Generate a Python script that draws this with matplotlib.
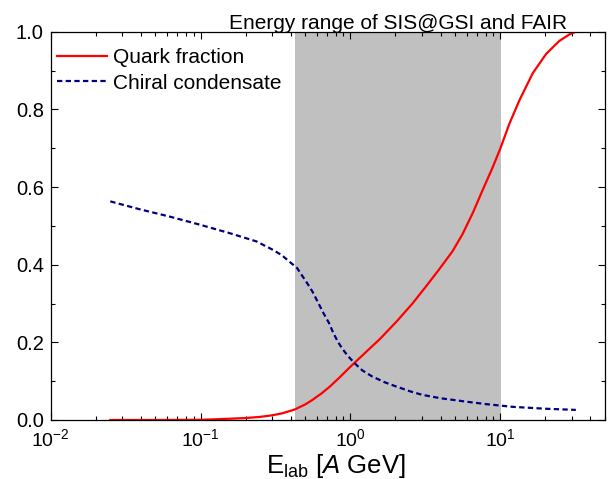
import numpy as np
import matplotlib
matplotlib.use('Agg')
import matplotlib.pyplot as plt
from matplotlib.ticker import MultipleLocator, FormatStrFormatter, LogLocator

plt.rcParams['font.family'] = ['Liberation Sans', 'DejaVu Sans']
plt.rcParams['mathtext.fontset'] = 'custom'
plt.rcParams['mathtext.rm'] = 'Liberation Sans'
plt.rcParams['mathtext.it'] = 'Liberation Sans:italic'
plt.rcParams['mathtext.default'] = 'regular'
plt.rcParams['axes.unicode_minus'] = False

# Curves (E_lab in A GeV)
e_quark = [0.025, 0.05, 0.1, 0.13, 0.2, 0.25, 0.3, 0.35, 0.425, 0.5, 0.56,
           0.64, 0.73, 0.85, 1.0, 1.28, 1.57, 2.03, 2.6, 3.2, 3.9, 4.8, 5.6,
           6.6, 7.6, 8.9, 10, 11.5, 13.4, 16.5, 20.3, 24.8, 29, 32]
quark_fraction = [0.0, 0.0, 0.0005, 0.002, 0.005, 0.008, 0.012, 0.017, 0.027,
                  0.040, 0.052, 0.068, 0.086, 0.110, 0.137, 0.176, 0.208,
                  0.253, 0.300, 0.344, 0.387, 0.434, 0.478, 0.535, 0.590,
                  0.650, 0.698, 0.762, 0.822, 0.893, 0.943, 0.976, 0.993, 1.0]

e_chiral = [0.025, 0.039, 0.062, 0.099, 0.157, 0.236, 0.305, 0.35, 0.40, 0.44,
            0.48, 0.52, 0.56, 0.61, 0.66, 0.72, 0.77, 0.83, 0.89, 0.95, 1.0,
            1.09, 1.2, 1.4, 1.7, 2.0, 2.5, 3.0, 4.0, 4.8, 6.0, 8.0, 12, 20, 32]
chiral_condensate = [0.563, 0.543, 0.524, 0.503, 0.481, 0.460, 0.438, 0.424,
                     0.405, 0.392, 0.370, 0.350, 0.330, 0.302, 0.276, 0.250,
                     0.224, 0.200, 0.182, 0.168, 0.158, 0.143, 0.128, 0.112,
                     0.097, 0.087, 0.074, 0.065, 0.056, 0.052, 0.047, 0.041,
                     0.034, 0.029, 0.026]

# SIS@GSI / FAIR energy window
band = [0.425, 10.2]

fig = plt.figure(figsize=(6.13, 4.79), dpi=100)
ax = fig.add_axes([0.0827, 0.1232, 0.904, 0.8106])

ax.axvspan(band[0], band[1], color='#c0c0c0', lw=0, zorder=0)
ax.plot(e_quark, quark_fraction, color='#ff0000', lw=1.6, label='Quark fraction')
ax.plot(e_chiral, chiral_condensate, color='#000080', lw=1.6,
        linestyle=(0, (2.4, 1.5)), label='Chiral condensate')

ax.set_xscale('log')
ax.set_xlim(0.01, 50)
ax.set_ylim(0, 1.0)
ax.yaxis.set_major_locator(MultipleLocator(0.2))
ax.yaxis.set_minor_locator(MultipleLocator(0.1))
ax.yaxis.set_major_formatter(FormatStrFormatter('%.1f'))
ax.xaxis.set_minor_locator(LogLocator(base=10, subs=np.arange(2, 10)))

ax.tick_params(which='both', direction='in', top=True, right=True, width=0.8)
ax.tick_params(which='major', length=5)
ax.tick_params(which='minor', length=3)
ax.tick_params(axis='y', labelsize=14.5, pad=5)
ax.tick_params(axis='x', labelsize=14, pad=6)
for s in ax.spines.values():
    s.set_linewidth(0.9)

ax.set_xlabel(r'E$_{lab}$ [$\mathit{A}$ GeV]', fontsize=18.5, labelpad=0)
ax.xaxis.set_label_coords(0.514, -0.082)
ax.text(0.627, 1.006, 'Energy range of SIS@GSI and FAIR', transform=ax.transAxes,
        ha='center', va='baseline', fontsize=15)

ax.legend(loc='upper left', bbox_to_anchor=(0.012, 0.957), frameon=False,
          fontsize=15, handlelength=2.4, handletextpad=0.25, borderaxespad=0,
          borderpad=0, labelspacing=0.3)

fig.savefig('out.png', dpi=100)
